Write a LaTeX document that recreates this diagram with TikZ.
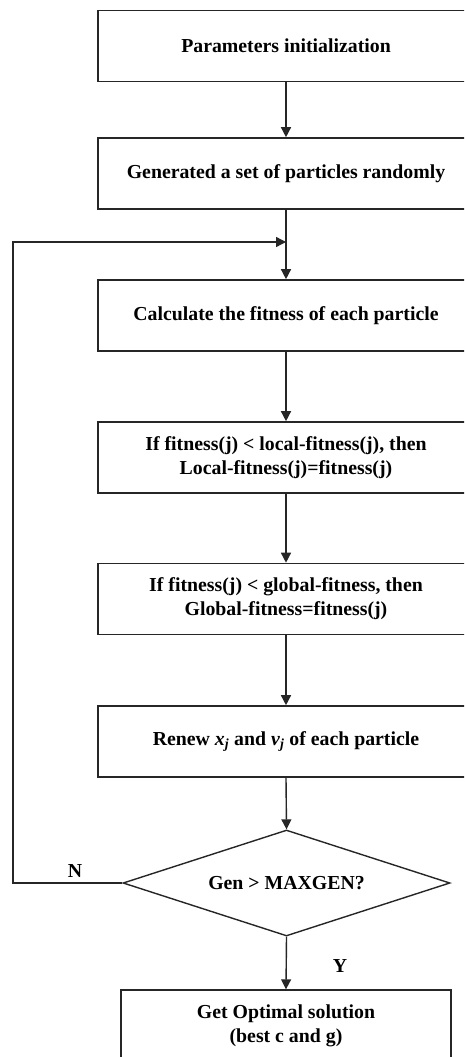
\documentclass[tikz,border=0pt]{standalone}
\usepackage{fontspec}
\setmainfont{Liberation Serif}
\usetikzlibrary{arrows.meta,shapes.geometric}
\begin{document}
\begin{tikzpicture}[x=1pt,y=-1pt,
  txt/.style={font=\fontsize{19.8}{24}\selectfont\bfseries},
  box/.style={txt,draw=black!85,line width=1.6pt,rectangle,minimum width=376pt,minimum height=71pt,inner sep=0pt,align=center},
  endbox/.style={txt,draw=black!85,line width=1.4pt,rectangle,minimum width=330pt,minimum height=72pt,inner sep=0pt,align=center},
  dia/.style={txt,draw=black!85,line width=1.4pt,diamond,aspect=3.1,minimum width=327pt,minimum height=106pt,inner sep=0pt},
  arr/.style={draw=black!85,line width=1.4pt,-{Triangle[width=10pt,length=10pt]}},
  lbl/.style={txt}]
\useasboundingbox (0,0) rectangle (464,1057);
\clip (0,0) rectangle (464,1057);
\node[box] (b1) at (286,46) {Parameters initialization};
\node[box] (b2) at (286,173.5) {Generated a set of particles randomly};
\node[box] (b3) at (286,315.5) {Calculate the fitness of each particle};
\node[box] (b4) at (286,457.5) {If fitness(j) < local-fitness(j), then\\Local-fitness(j)=fitness(j)};
\node[box] (b5) at (286,599) {If fitness(j) < global-fitness, then\\Global-fitness=fitness(j)};
\node[box] (b6) at (286,741.5) {Renew \textit{x}\textsubscript{\textit{j}} and \textit{v}\textsubscript{\textit{j}} of each particle};
\node[dia] (d) at (286.5,883) {Gen > MAXGEN?};
\node[endbox] (b7) at (286,1026) {Get Optimal solution\\(best c and g)};
\coordinate (join) at (286,242);
\coordinate (lc) at (13,242);
\draw[arr] (b1.south) -- (b2.north);
\draw[arr] (b2.south) -- (b3.north);
\draw[arr] (b3.south) -- (b4.north);
\draw[arr] (b4.south) -- (b5.north);
\draw[arr] (b5.south) -- (b6.north);
\draw[arr] (b6.south) -- (d.north);
\draw[arr] (d.south) -- (b7.north);
\draw[arr] (d.west) -| (lc) -- (join);
\node[lbl] (n) at (75,871) {N};
\node[lbl] (y) at (340,966) {Y};
\end{tikzpicture}
\end{document}
